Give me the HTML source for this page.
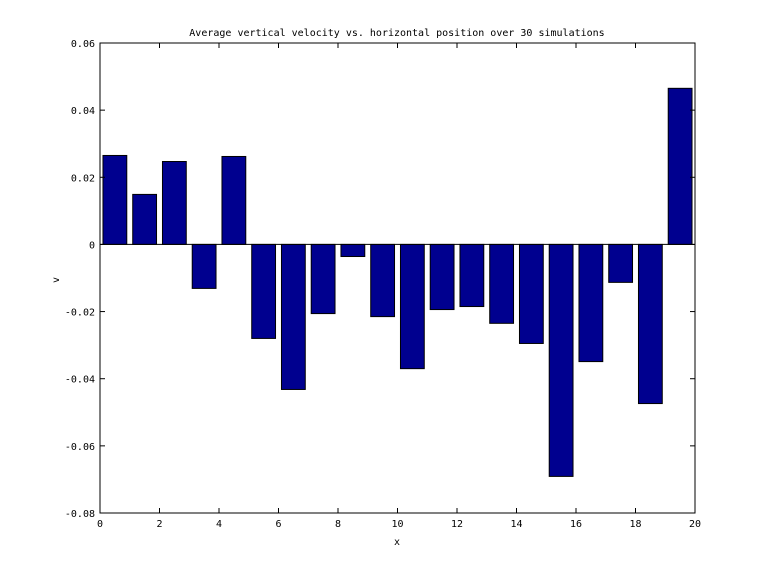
<!DOCTYPE html>
<html><head><meta charset="utf-8"><style>
body{margin:0;background:#fff;}
svg{display:block;font-family:"DejaVu Sans Mono","Liberation Mono",monospace;font-size:10px;}
</style></head><body>
<svg id="c" width="768" height="576">
<rect width="768" height="576" fill="#fff"/>
</svg>
<script>
const categories=[0.5,1.5,2.5,3.5,4.5,5.5,6.5,7.5,8.5,9.5,10.5,11.5,12.5,13.5,14.5,15.5,16.5,17.5,18.5,19.5];
const values=[0.0265,0.0149,0.0247,-0.0131,0.0262,-0.028,-0.0432,-0.0206,-0.0036,-0.0215,-0.037,-0.0194,-0.0185,-0.0235,-0.0295,-0.0691,-0.0349,-0.0113,-0.0474,0.0465];
const xTicks=[0,2,4,6,8,10,12,14,16,18,20];
const yTicks=[0.06,0.04,0.02,0,-0.02,-0.04,-0.06,-0.08];
const yTickLabels=["0.06","0.04","0.02","0","-0.02","-0.04","-0.06","-0.08"];
const L=100,R=695,T=43,B=513;
const xs=v=>L+(v-0)/20*(R-L);
const ys=v=>T+(0.06-v)/0.14*(B-T);
const svg=document.getElementById('c');
const NS='http://www.w3.org/2000/svg';
function mk(t,a){const e=document.createElementNS(NS,t);for(const k in a)e.setAttribute(k,a[k]);svg.appendChild(e);return e;}
categories.forEach((c,i)=>{
  const v=values[i];const y0=ys(0),y1=ys(v);
  const r=mk('rect',{x:xs(c-0.4),y:Math.min(y0,y1),width:xs(0.8)-xs(0),height:Math.abs(y1-y0),fill:'#00008f',stroke:'#000','stroke-width':1});
  
  
});
const z=mk('line',{x1:L,x2:R,y1:ys(0),y2:ys(0),stroke:'#000'});


const f=mk('rect',{x:L,y:T,width:R-L,height:B-T,fill:'none',stroke:'#000'});


xTicks.forEach(t=>{
  const x=xs(t);
  mk('line',{x1:x,x2:x,y1:B,y2:B-5,stroke:'#000'});
  mk('line',{x1:x,x2:x,y1:T,y2:T+5,stroke:'#000'});
  const tx=mk('text',{x:x,y:B+14,'text-anchor':'middle'});tx.textContent=t;
  
  
});
yTicks.forEach((t,i)=>{
  const y=ys(t);
  mk('line',{x1:L,x2:L+5,y1:y,y2:y,stroke:'#000'});
  mk('line',{x1:R,x2:R-5,y1:y,y2:y,stroke:'#000'});
  const tx=mk('text',{x:L-5,y:y+4,'text-anchor':'end'});tx.textContent=yTickLabels[i];
  
  
});
const ti=mk('text',{x:397,y:36,'text-anchor':'middle'});ti.textContent='Average vertical velocity vs. horizontal position over 30 simulations';


const xl=mk('text',{x:397,y:545,'text-anchor':'middle'});xl.textContent='x';


const yl=mk('text',{x:59,y:280,'text-anchor':'middle',transform:'rotate(-90 59 280)'});yl.textContent='v';


</script>
</body></html>
